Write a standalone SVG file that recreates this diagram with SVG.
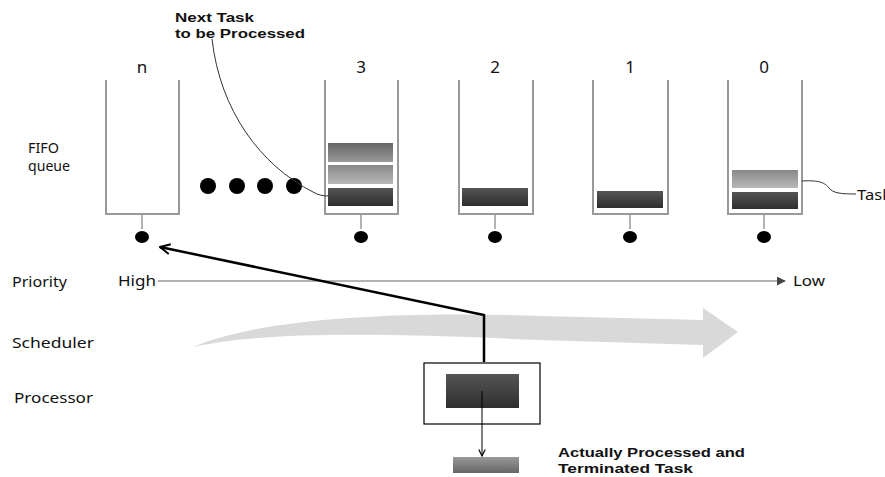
<svg xmlns="http://www.w3.org/2000/svg" width="885" height="477" viewBox="0 0 885 477">
<style>
text{font-family:"Noto Sans","Open Sans","Liberation Sans",sans-serif;fill:#111}
.lbl{font-size:14px}
.num{font-size:17px}
.bold{font-family:"Liberation Sans",Arial,sans-serif;font-size:13.5px;font-weight:bold}
.q{fill:none;stroke:#999;stroke-width:2}
.stem{stroke:#999;stroke-width:1.5}
.dot{fill:#000}
.dark{fill:url(#gDark)}
.mid{fill:url(#gMid)}
.light{fill:url(#gLight)}
</style>
<defs>
<linearGradient id="gDark" x1="0" y1="0" x2="0" y2="1"><stop offset="0" stop-color="#555"/><stop offset="1" stop-color="#2e2e2e"/></linearGradient>
<linearGradient id="gMid" x1="0" y1="0" x2="0" y2="1"><stop offset="0" stop-color="#666"/><stop offset="1" stop-color="#9a9a9a"/></linearGradient>
<linearGradient id="gLight" x1="0" y1="0" x2="0" y2="1"><stop offset="0" stop-color="#888"/><stop offset="1" stop-color="#b8b8b8"/></linearGradient>
<linearGradient id="gOut" x1="0" y1="0" x2="0" y2="1"><stop offset="0" stop-color="#999"/><stop offset="1" stop-color="#666"/></linearGradient>
<marker id="open" viewBox="0 0 12 12" refX="11" refY="6" markerWidth="12" markerHeight="12" markerUnits="userSpaceOnUse" orient="auto"><path d="M1,1 L11,6 L1,11" fill="none" stroke="#000" stroke-width="2"/></marker>
<marker id="tri" viewBox="0 0 10 10" refX="9" refY="5" markerWidth="9" markerHeight="9" markerUnits="userSpaceOnUse" orient="auto"><path d="M0,0 L10,5 L0,10 z" fill="#444"/></marker>
<marker id="small" viewBox="0 0 10 10" refX="9" refY="5" markerWidth="8" markerHeight="8" markerUnits="userSpaceOnUse" orient="auto"><path d="M1,1 L9,5 L1,9" fill="none" stroke="#000" stroke-width="1.5"/></marker>
</defs>
<rect width="885" height="477" fill="#fff"/>

<g id="labels">
<text class="lbl" x="28" y="153" textLength="31" lengthAdjust="spacingAndGlyphs">FIFO</text>
<text class="lbl" x="28" y="171" textLength="42" lengthAdjust="spacingAndGlyphs">queue</text>
<text class="lbl" x="12" y="287" textLength="55" lengthAdjust="spacingAndGlyphs">Priority</text>
<text class="lbl" x="12" y="348" textLength="82" lengthAdjust="spacingAndGlyphs">Scheduler</text>
<text class="lbl" x="14" y="403" textLength="79" lengthAdjust="spacingAndGlyphs">Processor</text>
<text class="bold" x="175" y="22" textLength="79" lengthAdjust="spacingAndGlyphs">Next Task</text>
<text class="bold" x="175" y="38" textLength="130" lengthAdjust="spacingAndGlyphs">to be Processed</text>
</g>

<g id="scheduler-arrow">
<path d="M193,347 C260,318 400,311 540,316 L703,320 L703,308 L738,332 L703,358 L703,345 L540,340 C400,334 270,330 193,347 z" fill="#d9d9d9"/>
</g>

<g id="queue-n">
<text class="num" x="142" y="73" text-anchor="middle">n</text>
<path class="q" d="M106,80 V214 H179 V80"/>
<line class="stem" x1="142" y1="214" x2="142" y2="229"/>
<ellipse class="dot" cx="142" cy="237" rx="7" ry="6"/>
</g>

<g id="ellipsis">
<circle class="dot" cx="208" cy="186" r="8"/>
<circle class="dot" cx="237" cy="186" r="8"/>
<circle class="dot" cx="265" cy="186" r="8"/>
<circle class="dot" cx="294" cy="186" r="8"/>
</g>

<g id="queue-3">
<text class="num" x="361" y="73" text-anchor="middle">3</text>
<path class="q" d="M325,80 V214 H398 V80"/>
<rect class="mid" x="328" y="143" width="65" height="19"/>
<rect class="light" x="328" y="165" width="65" height="19"/>
<rect class="dark" x="328" y="188" width="65" height="18"/>
<line class="stem" x1="361" y1="214" x2="361" y2="229"/>
<ellipse class="dot" cx="361" cy="237" rx="7" ry="6"/>
</g>

<g id="queue-2">
<text class="num" x="495" y="73" text-anchor="middle">2</text>
<path class="q" d="M459,80 V214 H533 V80"/>
<rect class="dark" x="462" y="188" width="66" height="18"/>
<line class="stem" x1="495" y1="214" x2="495" y2="229"/>
<ellipse class="dot" cx="495" cy="237" rx="7" ry="6"/>
</g>

<g id="queue-1">
<text class="num" x="630" y="73" text-anchor="middle">1</text>
<path class="q" d="M593,80 V214 H668 V80"/>
<rect class="dark" x="597" y="191" width="66" height="17"/>
<line class="stem" x1="630" y1="214" x2="630" y2="229"/>
<ellipse class="dot" cx="630" cy="237" rx="7" ry="6"/>
</g>

<g id="queue-0">
<text class="num" x="764" y="73" text-anchor="middle">0</text>
<path class="q" d="M728,80 V214 H802 V80"/>
<rect class="light" x="732" y="170" width="66" height="18"/>
<rect class="dark" x="732" y="192" width="66" height="17"/>
<line class="stem" x1="764" y1="214" x2="764" y2="229"/>
<ellipse class="dot" cx="764" cy="237" rx="7" ry="6"/>
<text class="lbl" x="857" y="200" textLength="34" lengthAdjust="spacingAndGlyphs">Task</text>
</g>

<g id="priority">
<text class="lbl" x="118" y="286" textLength="38" lengthAdjust="spacingAndGlyphs">High</text>
<text class="lbl" x="793" y="286" textLength="32" lengthAdjust="spacingAndGlyphs">Low</text>
</g>

<g id="processor">
<rect x="424" y="363" width="116" height="61" fill="#fff" stroke="#000" stroke-width="1.2"/>
<rect class="dark" x="446" y="374" width="73" height="34"/>
</g>

<g id="output-task">
<rect x="453" y="457" width="66" height="16" fill="url(#gOut)"/>
<text class="bold" x="558" y="457" textLength="187" lengthAdjust="spacingAndGlyphs">Actually Processed and</text>
<text class="bold" x="558" y="473" textLength="135" lengthAdjust="spacingAndGlyphs">Terminated Task</text>
</g>

<g id="connectors">
<path d="M212,39 C220,110 260,165 313,192 C318,195 323,196 329,196" fill="none" stroke="#333" stroke-width="1"/>
<path d="M802,181 C820,180 825,183 829,188 C833,193 840,194 856,194" fill="none" stroke="#333" stroke-width="1"/>
<line x1="158" y1="281" x2="785" y2="281" stroke="#666" stroke-width="1" marker-end="url(#tri)"/>
<path d="M484,362 V315 L160,247" fill="none" stroke="#000" stroke-width="2.5" marker-end="url(#open)"/>
<line x1="482" y1="391" x2="482" y2="456" stroke="#000" stroke-width="1" marker-end="url(#small)"/>
</g>
</svg>
